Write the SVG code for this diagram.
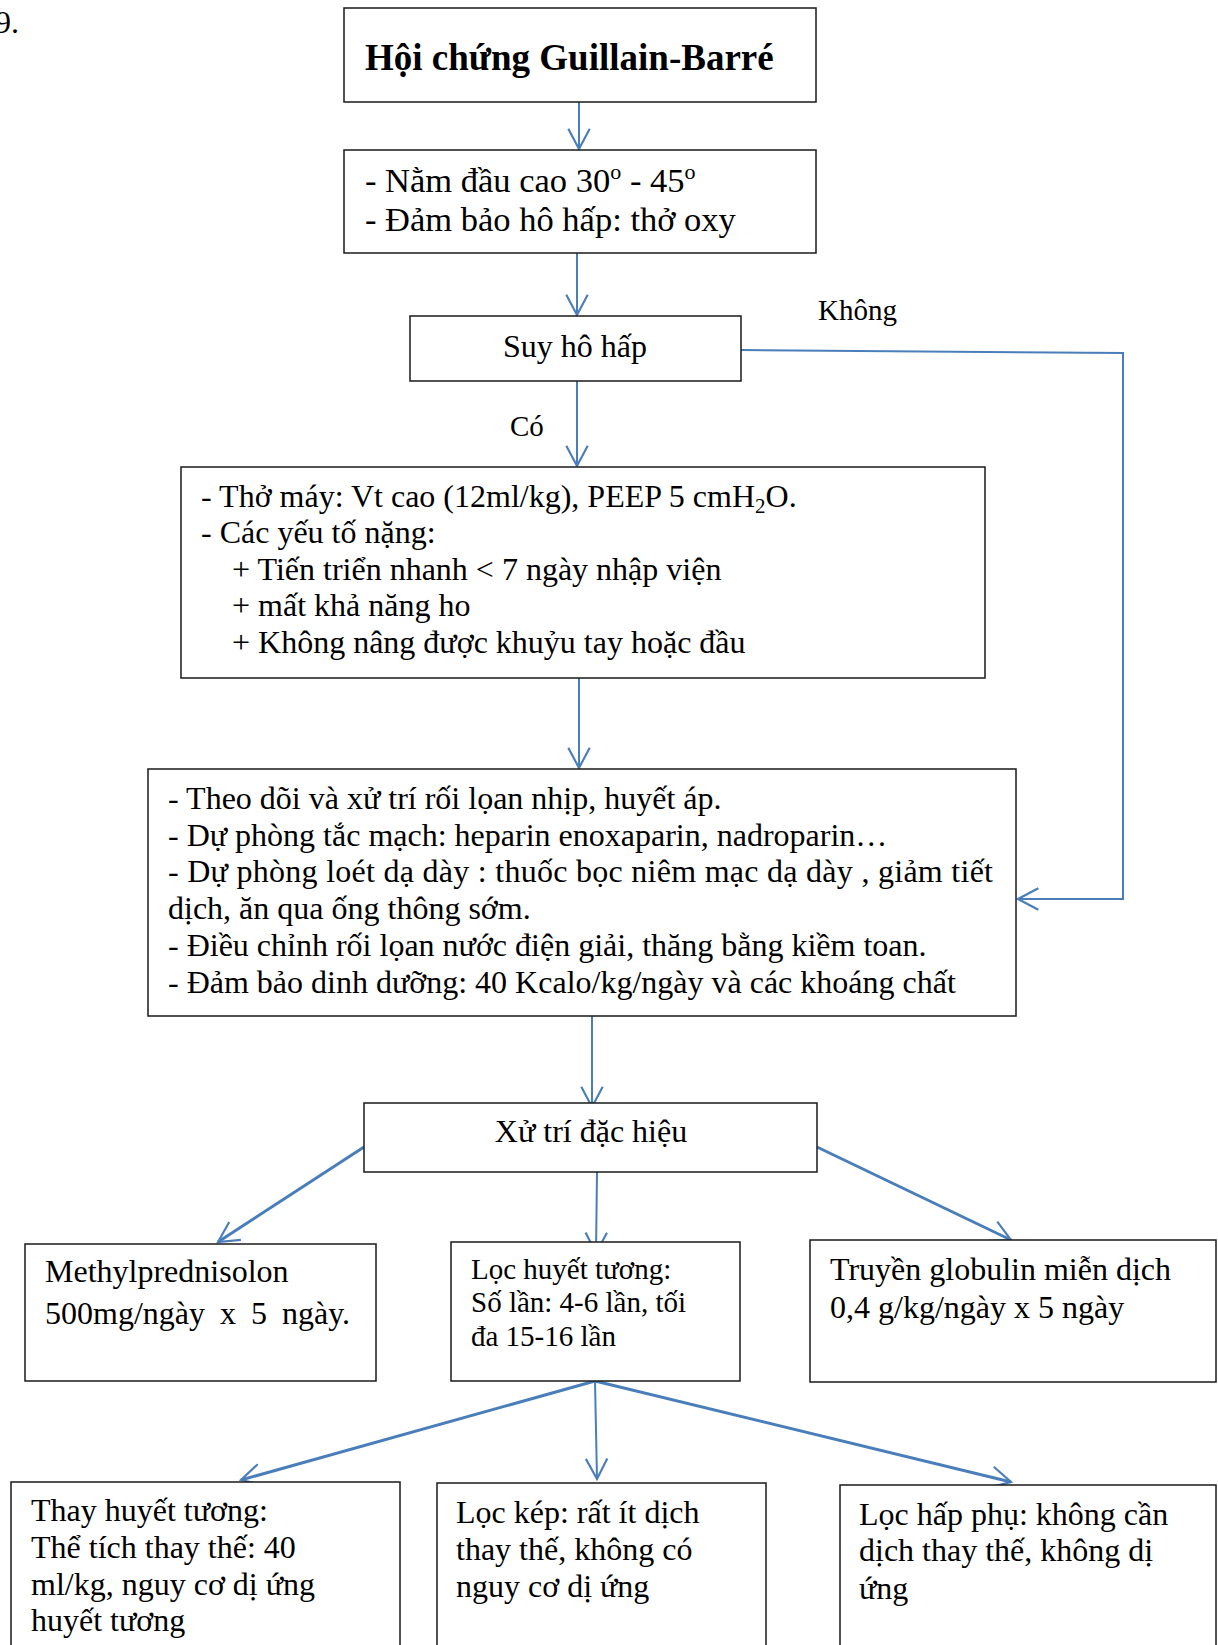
<svg xmlns="http://www.w3.org/2000/svg" width="1218" height="1645" viewBox="0 0 1218 1645">
<style>
.bx{fill:#fff;stroke:#1a1a1a;stroke-width:1.5}
text{font-family:"Liberation Serif","Times New Roman",serif;fill:#000;font-size:32px}
.t29{font-size:29px}
.t34{font-size:34.5px}
.ttl{font-size:37px;font-weight:bold}
.c{fill:none;stroke:#4a7ebb;stroke-width:2}
.ck{fill:none;stroke:#4a7ebb;stroke-width:3}
</style>
<defs>
<marker id="ah" markerUnits="userSpaceOnUse" markerWidth="30" markerHeight="30" refX="0" refY="0" viewBox="-22 -14 26 28" orient="auto" overflow="visible">
<path d="M-19,-10 L0,0 L-19,10" fill="none" stroke="#4a7ebb" stroke-width="2"/>
</marker>
</defs>
<rect width="1218" height="1645" fill="#fff"/>
<text x="-5" y="33" font-size="34">9.</text>

<g id="connectors">
<line class="c" x1="579" y1="102" x2="579" y2="149" marker-end="url(#ah)"/>
<line class="c" x1="577" y1="253" x2="577" y2="315" marker-end="url(#ah)"/>
<line class="c" x1="577" y1="381" x2="577" y2="466" marker-end="url(#ah)"/>
<polyline class="c" points="741,350 1123,353 1123,899 1018,899" marker-end="url(#ah)"/>
<line class="c" x1="579" y1="678" x2="579" y2="768" marker-end="url(#ah)"/>
<line class="c" x1="592" y1="1016" x2="592" y2="1107" marker-end="url(#ah)"/>
<line class="ck" x1="364" y1="1147" x2="218" y2="1242" marker-end="url(#ah)"/>
<line class="c" x1="597" y1="1172" x2="596" y2="1253" marker-end="url(#ah)"/>
<line class="ck" x1="817" y1="1147" x2="1011" y2="1240" marker-end="url(#ah)"/>
<line class="ck" x1="595" y1="1381" x2="241" y2="1480" marker-end="url(#ah)"/>
<line class="c" x1="595" y1="1381" x2="597" y2="1479" marker-end="url(#ah)"/>
<line class="ck" x1="595" y1="1381" x2="1011" y2="1482" marker-end="url(#ah)"/>
<text x="818" y="320" class="t29">Không</text>
<text x="510" y="436" class="t29">Có</text>
</g>

<g id="n-title">
<rect class="bx" x="344" y="8" width="472" height="94"/>
<text x="365" y="70" class="ttl">Hội chứng Guillain-Barré</text>
</g>

<g id="n-tuthe">
<rect class="bx" x="344" y="150" width="472" height="103"/>
<text x="365" y="192" class="t34">- Nằm đầu cao 30<tspan font-size="22" dy="-13">o</tspan><tspan dy="13"> - 45</tspan><tspan font-size="22" dy="-13">o</tspan></text>
<text x="365" y="231" class="t34">- Đảm bảo hô hấp: thở oxy</text>
</g>

<g id="n-suy">
<rect class="bx" x="410" y="316" width="331" height="65"/>
<text x="575" y="357" text-anchor="middle">Suy hô hấp</text>
</g>

<g id="n-thomay">
<rect class="bx" x="181" y="467" width="804" height="211"/>
<text x="201" y="507">- Thở máy: Vt cao (12ml/kg), PEEP 5 cmH<tspan font-size="21" dy="6">2</tspan><tspan dy="-6">O.</tspan></text>
<text x="201" y="543">- Các yếu tố nặng:</text>
<text x="232" y="580">+ Tiến triển nhanh &lt; 7 ngày nhập viện</text>
<text x="232" y="616">+ mất khả năng ho</text>
<text x="232" y="653">+ Không nâng được khuỷu tay hoặc đầu</text>
</g>

<g id="n-theodoi">
<rect class="bx" x="148" y="769" width="868" height="247"/>
<text x="168" y="809">- Theo dõi và xử trí rối lọan nhịp, huyết áp.</text>
<text x="168" y="846">- Dự phòng tắc mạch: heparin enoxaparin, nadroparin…</text>
<text x="168" y="882" textLength="825" lengthAdjust="spacing">-  Dự phòng loét dạ dày : thuốc bọc niêm mạc dạ dày , giảm tiết</text>
<text x="168" y="919">dịch, ăn qua ống thông sớm.</text>
<text x="168" y="956">- Điều chỉnh rối lọan nước điện giải, thăng bằng kiềm toan.</text>
<text x="168" y="993">- Đảm bảo dinh dưỡng: 40 Kcalo/kg/ngày và các khoáng chất</text>
</g>

<g id="n-xutri">
<rect class="bx" x="364" y="1103" width="453" height="69"/>
<text x="591" y="1142" text-anchor="middle">Xử trí đặc hiệu</text>
</g>

<g id="n-methyl">
<rect class="bx" x="25" y="1244" width="351" height="137"/>
<text x="45" y="1282">Methylprednisolon</text>
<text x="45" y="1324" font-size="33.5" word-spacing="7">500mg/ngày x 5 ngày.</text>
</g>

<g id="n-loc">
<rect class="bx" x="451" y="1242" width="289" height="139"/>
<text x="471" y="1279" class="t29">Lọc huyết tương:</text>
<text x="471" y="1312" class="t29">Số lần: 4-6 lần, tối</text>
<text x="471" y="1346" class="t29">đa 15-16 lần</text>
</g>

<g id="n-globulin">
<rect class="bx" x="810" y="1240" width="406" height="142"/>
<text x="830" y="1280">Truyền globulin miễn dịch</text>
<text x="830" y="1318">0,4 g/kg/ngày x 5 ngày</text>
</g>

<g id="n-thay">
<rect class="bx" x="11" y="1482" width="389" height="180"/>
<text x="31" y="1521">Thay huyết tương:</text>
<text x="31" y="1558">Thể tích thay thế: 40</text>
<text x="31" y="1595">ml/kg, nguy cơ dị ứng</text>
<text x="31" y="1631">huyết tương</text>
</g>

<g id="n-lockep">
<rect class="bx" x="437" y="1483" width="329" height="180"/>
<text x="456" y="1523">Lọc kép: rất ít dịch</text>
<text x="456" y="1560">thay thế, không có</text>
<text x="456" y="1597">nguy cơ dị ứng</text>
</g>

<g id="n-lochap">
<rect class="bx" x="840" y="1485" width="376" height="180"/>
<text x="859" y="1525">Lọc hấp phụ: không cần</text>
<text x="859" y="1561">dịch thay thế, không dị</text>
<text x="859" y="1599">ứng</text>
</g>
</svg>
